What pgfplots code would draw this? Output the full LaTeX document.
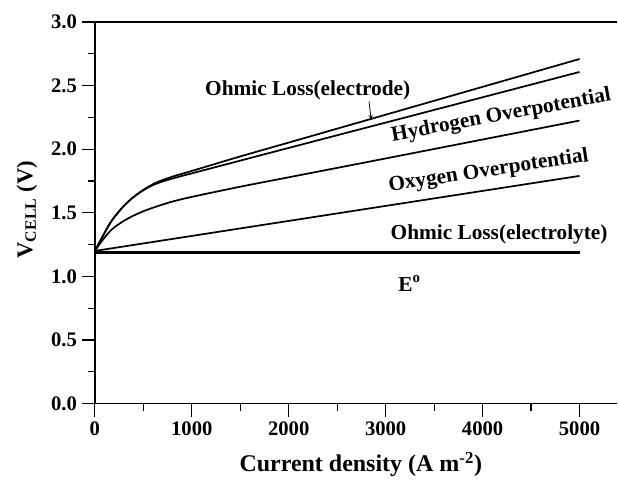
\documentclass[border=0pt]{standalone}
\usepackage{fontspec}
\setmainfont{Liberation Serif}
\usepackage{pgfplots}
\pgfplotsset{compat=1.18}
\usetikzlibrary{arrows.meta}
\begin{document}
\begin{tikzpicture}
\begin{axis}[
  scale only axis, width=392.25pt, height=286.5pt,
  xmin=0, xmax=5390, ymin=0, ymax=3,
  axis line style={draw=none},
  xtick pos=bottom, ytick pos=left,
  xtick={0,1000,2000,3000,4000,5000},
  ytick={0,0.5,1,1.5,2,2.5,3},
  minor x tick num=1, minor y tick num=1,
  tick align=outside,
  major tick length=10pt, minor tick length=5.5pt,
  every tick/.style={black, line width=0.9pt},
  /pgf/number format/assume math mode=true,
  tick label style={font=\fontsize{15.5}{18}\selectfont\bfseries},
  x tick label style={/pgf/number format/1000 sep={}},
  y tick label style={/pgf/number format/.cd, fixed, fixed zerofill, precision=1},
  xlabel={Current density (A m\textsuperscript{-2})},
  ylabel={V\textsubscript{CELL} (V)},
  xlabel style={font=\fontsize{18}{21}\selectfont\bfseries, at={(axis description cs:0.509,-0.16)}, anchor=center},
  ylabel style={font=\fontsize{17}{20}\selectfont\bfseries, at={(axis description cs:-0.13,0.508)}, anchor=center, rotate=0},
  clip=false,
]
\path (rel axis cs:-0.1816,-0.1963) rectangle (rel axis cs:1,1.0576);
\draw[line width=1pt] (rel axis cs:1,0) -- (rel axis cs:0,0) -- (rel axis cs:0,1) -- (rel axis cs:1,1);

% E0
\addplot[black, line width=2pt] coordinates {(0,1.19) (5000,1.19)};
% Ohmic loss electrolyte
\addplot[black, line width=1.3pt] coordinates {(0,1.2) (5000,1.79)};
% Oxygen overpotential
\addplot[black, line width=1.3pt, smooth] coordinates {
(0,1.2) (50,1.255) (100,1.305) (150,1.35) (200,1.385) (300,1.437) (400,1.478)
(500,1.512) (600,1.54) (700,1.565) (800,1.588) (1000,1.625) (1500,1.705)
(2000,1.779) (3000,1.927) (4000,2.076) (5000,2.225)};
% Hydrogen overpotential
\addplot[black, line width=1.3pt, smooth] coordinates {
(0,1.2) (50,1.272) (100,1.342) (150,1.41) (200,1.465) (300,1.555) (400,1.624)
(500,1.677) (600,1.718) (700,1.747) (800,1.769) (900,1.79) (1000,1.81)
(1500,1.91) (2000,2.01) (3000,2.209) (4000,2.408) (5000,2.607)};
% Ohmic loss electrode
\addplot[black, line width=1.3pt, smooth] coordinates {
(0,1.2) (50,1.272) (100,1.342) (150,1.41) (200,1.465) (300,1.555) (400,1.625)
(500,1.68) (600,1.725) (700,1.758) (800,1.784) (900,1.807) (1000,1.829)
(1500,1.943) (2000,2.052) (3000,2.271) (4000,2.49) (5000,2.709)};

\node[font=\fontsize{16}{19}\selectfont\bfseries] at (axis cs:2196,2.459) {Ohmic Loss(electrode)};
\draw[-{Stealth[length=4pt,width=3pt]}, line width=0.6pt] (axis cs:2828,2.375) -- (axis cs:2852,2.228);
\node[font=\fontsize{16}{19}\selectfont\bfseries, rotate=10.5] at (axis cs:4193,2.262) {Hydrogen Overpotential};
\node[font=\fontsize{16}{19}\selectfont\bfseries, rotate=8.5] at (axis cs:4062,1.826) {Oxygen Overpotential};
\node[font=\fontsize{16}{19}\selectfont\bfseries] at (axis cs:4170,1.328) {Ohmic Loss(electrolyte)};
\node[font=\fontsize{16}{19}\selectfont\bfseries] at (axis cs:3247,0.943) {E\textsuperscript{o}};
\end{axis}
\end{tikzpicture}
\end{document}
